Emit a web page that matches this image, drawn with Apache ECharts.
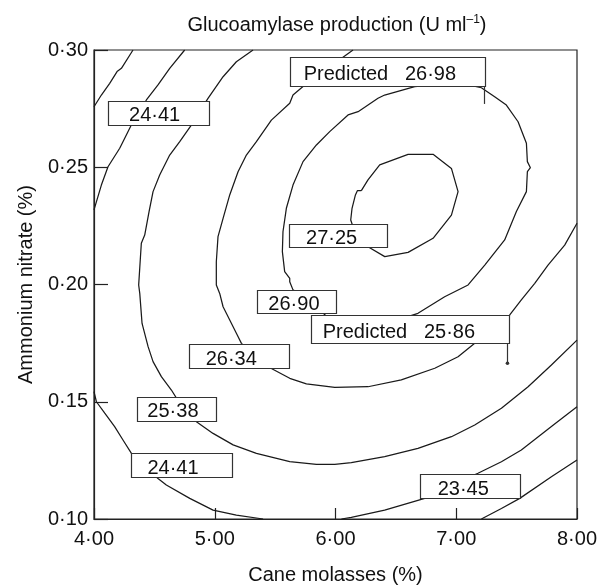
<!DOCTYPE html>
<html>
<head>
<meta charset="utf-8">
<script src="https://cdn.jsdelivr.net/npm/echarts@6/dist/echarts.min.js"></script>
<style>
  html, body { margin: 0; padding: 0; background: #fff; }
  #main { width: 598px; height: 586px; }
</style>
</head>
<body>
<div id="main"></div>
<script>
// tick labels (the paper uses a middle dot as decimal mark)
var xTickLabels = ['4·00', '5·00', '6·00', '7·00', '8·00'];
var yTickLabels = ['0·10', '0·15', '0·20', '0·25', '0·30'];

// contour lines: [cane molasses %, ammonium nitrate %]
var c2345_top = [[4.323,0.300],[4.227,0.2922],[4.191,0.2908],[4.130,0.2858],[4.061,0.2808],[4.000,0.2758]];
var c2441_top = [[4.751,0.300],[4.627,0.2922],[4.530,0.2851],[4.434,0.2787],[4.309,0.2680],[4.213,0.2581],[4.116,0.2502],[4.061,0.2424],[4.000,0.2318]];
var c2441_left = [[4.000,0.1543],[4.020,0.1500],[4.089,0.1451],[4.171,0.1394],[4.240,0.1337],[4.310,0.1280],[4.530,0.1173],[4.599,0.1145],[4.793,0.1088],[4.986,0.1038],[5.179,0.1017],[5.400,0.1000]];
var c2538 = [[5.317,0.300],[5.179,0.2950],[5.069,0.2886],[4.944,0.2794],[4.806,0.2680],[4.710,0.2609],[4.627,0.2552],[4.544,0.2467],[4.489,0.2396],[4.456,0.2311],[4.420,0.2211],[4.392,0.2176],[4.384,0.2112],[4.370,0.1998],[4.379,0.1962],[4.398,0.1834],[4.448,0.1735],[4.489,0.1671],[4.558,0.1607],[4.641,0.1550],[4.710,0.1493],[4.848,0.1415],[4.986,0.1365],[5.152,0.1316],[5.345,0.1280],[5.621,0.1245],[5.842,0.1233],[5.994,0.1233],[6.131,0.1240],[6.407,0.1266],[6.683,0.1301],[6.960,0.1351],[7.153,0.1401],[7.374,0.1472],[7.595,0.1564],[7.788,0.1657],[8.000,0.1763]];
var c2634 = [[6.145,0.300],[6.062,0.2969],[5.731,0.2844],[5.648,0.2808],[5.621,0.2773],[5.469,0.2701],[5.345,0.2609],[5.262,0.2552],[5.193,0.2481],[5.124,0.2382],[5.069,0.2282],[5.027,0.2204],[5.013,0.2097],[5.013,0.1998],[5.041,0.1962],[5.069,0.1905],[5.124,0.1849],[5.179,0.1792],[5.221,0.1749],[5.345,0.1692],[5.469,0.1642],[5.621,0.1600],[5.759,0.1576],[5.994,0.1561],[6.269,0.1564],[6.545,0.1593],[6.822,0.1643],[7.015,0.1692],[7.153,0.1749],[7.443,0.1870],[7.539,0.1934],[7.650,0.2005],[7.760,0.2083],[7.898,0.2168],[8.000,0.2261]];
var c2690 = [[5.648,0.1977],[5.621,0.2012],[5.621,0.2026],[5.579,0.2055],[5.560,0.2140],[5.565,0.2225],[5.593,0.2325],[5.648,0.2424],[5.731,0.2524],[5.842,0.2595],[5.952,0.2652],[6.104,0.2723],[6.187,0.2737],[6.352,0.2794],[6.407,0.2808],[6.656,0.2844],[6.877,0.2854],[7.098,0.2851],[7.208,0.2839],[7.318,0.2801],[7.415,0.2765],[7.512,0.2694],[7.581,0.2602],[7.589,0.2524],[7.614,0.2498],[7.589,0.2481],[7.581,0.2396],[7.498,0.2311],[7.401,0.2190],[7.236,0.2083],[7.098,0.1998],[6.904,0.1948],[6.683,0.1877],[6.400,0.1830],[6.000,0.1830],[5.850,0.1900],[5.700,0.1960],[5.648,0.1977]];
var c2725 = [[6.214,0.2400],[6.269,0.2446],[6.366,0.2510],[6.601,0.2555],[6.808,0.2555],[6.960,0.2495],[7.015,0.2396],[6.960,0.2296],[6.808,0.2197],[6.601,0.2137],[6.408,0.2119],[6.269,0.2161],[6.187,0.2183],[6.126,0.2275],[6.137,0.2325],[6.165,0.2382],[6.181,0.2400],[6.214,0.2400]];
var c2441_right = [[8.000,0.1479],[7.788,0.1394],[7.539,0.1294],[7.374,0.1244],[7.180,0.1195],[6.932,0.1138],[6.739,0.1088],[6.407,0.1038],[6.131,0.1007],[6.049,0.1000]];
var c2345_right = [[8.000,0.1252],[7.788,0.1180],[7.526,0.1088],[7.374,0.1045],[7.208,0.1000]];

// contour labels and where their boxes sit (top-left corner, data units)
var labelTexts = ['24·41', 'Predicted   26·98', '27·25', '26·90', 'Predicted   25·86', '26·34', '25·38', '24·41', '23·45'];
var labelX = [4.116, 5.621, 5.615, 5.353, 5.795, 4.784, 4.359, 4.310, 6.697];
var labelY = [0.2783, 0.2969, 0.2258, 0.1977, 0.1870, 0.1745, 0.1522, 0.1280, 0.1191];

// predicted points the two "Predicted" boxes point at
var predictedX = [7.231, 7.424];
var predictedY = [0.2770, 0.1664];

// box sizes in pixels (w, h, left padding), pointer index
var boxLayout = [
  {w: 101, h: 24, pad: 21},
  {w: 195, h: 29, pad: 14, pt: 0},
  {w: 98, h: 23, pad: 17},
  {w: 79, h: 23, pad: 11},
  {w: 198, h: 28, pad: 12, pt: 1, dot: true},
  {w: 100, h: 24, pad: 17},
  {w: 79, h: 24, pad: 10},
  {w: 101, h: 24, pad: 16},
  {w: 100, h: 24, pad: 18}
];

var FONT = '"Liberation Sans", Arial, Helvetica, sans-serif';
var INK = '#1a1a1a';

var contours = [c2345_top, c2441_top, c2441_left, c2538, c2634, c2690, c2725, c2441_right, c2345_right];

var series = contours.map(function (d) {
  return {
    type: 'line',
    data: d,
    showSymbol: false,
    symbol: 'none',
    silent: true,
    z: 2,
    lineStyle: { color: INK, width: 1.25 }
  };
});

function renderBox(params, api) {
  var i = api.value(2);
  var b = boxLayout[i];
  var p = api.coord([api.value(0), api.value(1)]);
  var children = [{
    type: 'rect',
    shape: { x: Math.round(p[0]) + 0.5, y: Math.round(p[1]) + 0.5, width: b.w, height: b.h },
    style: { fill: '#fff', stroke: '#333', lineWidth: 1.2 }
  }, {
    type: 'text',
    x: p[0] + b.pad,
    y: p[1] + b.h / 2 + 3,
    style: { text: labelTexts[i], fill: '#111', font: '20px ' + FONT, align: 'left', verticalAlign: 'middle' }
  }];
  if (b.pt != null) {
    var q = api.coord([predictedX[b.pt], predictedY[b.pt]]);
    children.push({
      type: 'line',
      shape: { x1: Math.round(q[0]) + 0.5, y1: p[1] + b.h, x2: Math.round(q[0]) + 0.5, y2: q[1] },
      style: { stroke: '#333', lineWidth: 1.2 }
    });
    if (b.dot) {
      children.push({ type: 'circle', shape: { cx: q[0], cy: q[1], r: 1.8 }, style: { fill: '#333' } });
    }
  }
  return { type: 'group', children: children };
}

series.push({
  type: 'custom',
  renderItem: renderBox,
  z: 5,
  silent: true,
  clip: false,
  data: labelTexts.map(function (t, i) { return [labelX[i], labelY[i], i]; })
});

var chart = echarts.init(document.getElementById('main'));
chart.setOption({
  animation: false,
  backgroundColor: '#fff',
  title: {
    text: '{t|Glucoamylase production (U ml}{s|–1}{t|)}',
    left: 332,
    top: 9,
    textAlign: 'center',
    textStyle: {
      fontWeight: 'normal',
      rich: {
        t: { fontSize: 20, fontFamily: FONT, fontWeight: 'normal', color: '#111' },
        s: { fontSize: 12, fontFamily: FONT, fontWeight: 'normal', color: '#111', verticalAlign: 'top', padding: [0, 0, 10, 0] }
      }
    }
  },
  grid: {
    left: 94, right: 21, top: 50, bottom: 67,
    containLabel: false,
    outerBoundsMode: 'none',
    show: true, borderColor: '#222', borderWidth: 1.2
  },
  xAxis: {
    type: 'value',
    min: 4, max: 8, interval: 1,
    name: 'Cane molasses (%)',
    nameLocation: 'middle',
    nameGap: 46,
    nameTextStyle: { fontSize: 20, fontFamily: FONT, color: '#111' },
    axisLine: { lineStyle: { color: '#222', width: 1.2 } },
    axisTick: { inside: true, length: 11, lineStyle: { color: '#222', width: 1.2 } },
    splitLine: { show: false },
    axisLabel: {
      margin: 10, fontSize: 20, fontFamily: FONT, color: '#111',
      formatter: function (v) { return xTickLabels[Math.round(v - 4)]; }
    }
  },
  yAxis: {
    type: 'value',
    min: 0.1, max: 0.3, interval: 0.05,
    name: 'Ammonium nitrate (%)',
    nameLocation: 'middle',
    nameGap: 58,
    nameTextStyle: { fontSize: 20, fontFamily: FONT, color: '#111' },
    axisLine: { lineStyle: { color: '#222', width: 1.2 } },
    axisTick: { inside: true, length: 14, lineStyle: { color: '#222', width: 1.2 } },
    splitLine: { show: false },
    axisLabel: {
      margin: 6, fontSize: 20, fontFamily: FONT, color: '#111',
      padding: [7, 0, 0, 0],
      formatter: function (v) { return yTickLabels[Math.round((v - 0.1) / 0.05)]; }
    }
  },
  series: series
});
</script>
</body>
</html>
